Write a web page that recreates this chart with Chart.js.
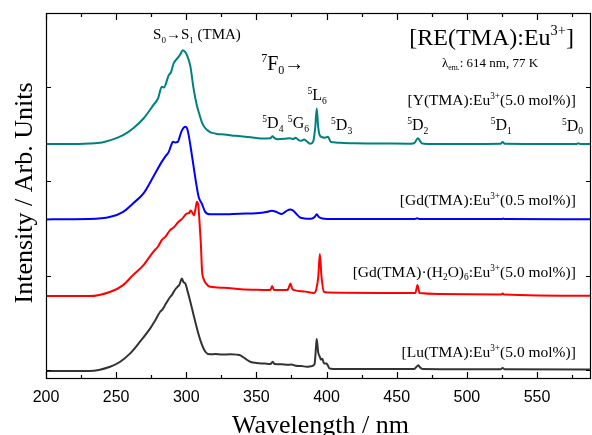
<!DOCTYPE html>
<html lang="en">
  <head>
    <meta charset="UTF-8" />
    <title>RE(TMA):Eu3+ excitation spectra</title>
    <script src="https://cdn.jsdelivr.net/npm/chart.js"></script>
    <style>
      html,
      body {
        margin: 0;
        padding: 0;
        background: #fff;
      }
    </style>
  </head>
  <body>
    <canvas id="spectra" width="592" height="435"></canvas>

    <script>
      // axis ticks
      const xTicks = [200, 250, 300, 350, 400, 450, 500, 550];
      const xMinorTicks = [225, 275, 325, 375, 425, 475, 525, 575];
      const yTicks = [0, 1, 2, 3];

      // Y(TMA):Eu3+ (5.0 mol%)
      const tealX = [200, 215, 231, 240, 246, 255, 262, 269.5, 276.5, 280, 282.5, 284, 287.5, 289, 291, 294.5, 296, 297.5, 299, 300.5, 303, 305, 307.5, 309.5, 311, 313, 315, 317, 318.5, 322, 327, 335, 346, 353, 360, 361.5, 363, 365, 370, 374, 376, 378, 380, 382, 384, 386, 388.5, 390.5, 392, 393, 394, 395, 397, 399, 401, 403, 406, 410, 420, 440, 460, 463, 465, 466.5, 468, 472, 500, 524, 525.5, 527, 560, 578, 579.5, 581, 590];
      const tealY = [2.392, 2.392, 2.398, 2.41, 2.434, 2.487, 2.558, 2.663, 2.804, 2.88, 2.998, 2.99, 3.122, 3.15, 3.246, 3.315, 3.35, 3.386, 3.37, 3.333, 3.21, 2.998, 2.804, 2.7, 2.628, 2.57, 2.54, 2.52, 2.511, 2.5, 2.494, 2.48, 2.465, 2.452, 2.455, 2.475, 2.455, 2.444, 2.448, 2.455, 2.445, 2.46, 2.435, 2.428, 2.44, 2.42, 2.395, 2.42, 2.58, 2.77, 2.58, 2.49, 2.465, 2.46, 2.47, 2.416, 2.41, 2.405, 2.4, 2.398, 2.396, 2.41, 2.455, 2.43, 2.4, 2.394, 2.392, 2.395, 2.415, 2.395, 2.392, 2.392, 2.4, 2.392, 2.392];

      // Gd(TMA):Eu3+ (0.5 mol%)
      const blueX = [200, 231, 246, 255, 262, 269.5, 276.5, 282.5, 285, 287.5, 289, 290.5, 292, 294, 295.5, 297, 299.3, 300.5, 301.7, 304, 306.5, 308.8, 311, 313.5, 317, 325, 338, 350, 357, 361, 364, 368, 371, 374, 376, 378, 381, 384, 389, 391.5, 393, 394.5, 397, 405, 463, 464.5, 466, 525, 526, 527, 590];
      const blueY = [1.595, 1.598, 1.622, 1.675, 1.764, 1.87, 2.046, 2.204, 2.26, 2.31, 2.37, 2.416, 2.41, 2.416, 2.48, 2.54, 2.575, 2.56, 2.487, 2.275, 2.028, 1.834, 1.764, 1.675, 1.648, 1.648, 1.655, 1.66, 1.672, 1.686, 1.675, 1.651, 1.68, 1.7, 1.69, 1.66, 1.616, 1.605, 1.602, 1.62, 1.648, 1.62, 1.604, 1.598, 1.598, 1.606, 1.598, 1.598, 1.603, 1.598, 1.597];

      // Gd(TMA)(H2O)6:Eu3+ (5.0 mol%)
      const redX = [200, 231, 246, 255, 262, 269.5, 276.5, 280, 282.5, 285, 288.5, 291, 294.5, 297, 300.5, 302, 303, 304, 305.5, 306.5, 307.6, 308.6, 309.5, 310.5, 311.2, 312.5, 314, 317, 327, 339, 355, 360, 361.2, 362.5, 372, 373, 374.3, 375.5, 377, 385, 391, 392.8, 394.1, 395.2, 396.4, 398, 401, 410, 440, 463.3, 464.8, 466.3, 480, 524.5, 525.5, 526.5, 590];
      const redY = [0.783, 0.783, 0.829, 0.899, 1.005, 1.111, 1.252, 1.31, 1.376, 1.41, 1.481, 1.51, 1.569, 1.6, 1.658, 1.66, 1.69, 1.675, 1.64, 1.7, 1.781, 1.74, 1.55, 1.3, 1.058, 0.96, 0.917, 0.881, 0.871, 0.854, 0.848, 0.847, 0.889, 0.847, 0.846, 0.87, 0.917, 0.86, 0.846, 0.83, 0.815, 0.864, 0.99, 1.228, 0.99, 0.83, 0.82, 0.818, 0.815, 0.815, 0.899, 0.815, 0.806, 0.8, 0.81, 0.8, 0.786];

      // Lu(TMA):Eu3+ (5.0 mol%)
      const grayX = [200, 231, 245.7, 252.9, 260, 267, 274.3, 278, 281.4, 283, 285, 288.6, 290, 291.5, 293.8, 295, 296.9, 298, 299.3, 301, 302.9, 306.4, 310, 313.6, 317, 321, 325, 331.4, 336, 338.6, 342, 346, 350, 356, 360, 361.6, 363, 368, 372, 375, 378, 382, 386, 389, 391.4, 392.5, 393, 394, 395.2, 396, 397, 398.1, 400, 401.2, 402, 405, 410, 462.5, 464.5, 465.5, 466.5, 468.5, 500, 524, 525.5, 527, 590];
      const grayY = [-0.01, -0.01, 0.035, 0.088, 0.176, 0.3, 0.441, 0.53, 0.617, 0.64, 0.69, 0.776, 0.8, 0.84, 0.882, 0.9, 0.97, 0.93, 0.917, 0.83, 0.723, 0.511, 0.317, 0.194, 0.166, 0.17, 0.165, 0.166, 0.163, 0.155, 0.12, 0.085, 0.075, 0.068, 0.063, 0.088, 0.063, 0.06, 0.055, 0.058, 0.045, 0.042, 0.035, 0.04, 0.06, 0.25, 0.328, 0.19, 0.14, 0.11, 0.12, 0.071, 0.068, 0.04, 0.018, 0.012, 0.011, 0.011, 0.04, 0.05, 0.03, 0.011, 0.008, 0.008, 0.022, 0.008, 0.005];

      const serif = '"Liberation Serif", "Times New Roman", serif';
      const sans = '"Liberation Sans", Arial, sans-serif';

      // text labels: [wavelength, intensity, align, size, parts]
      // parts: [text, "n" | "sup" | "sub"]
      const labels = [
        [276.3, 3.502, "left", 15, [["S", "n"], ["0", "sub"], ["\u2192S", "n"], ["1", "sub"], [" (TMA)", "n"]]],
        [353.4, 3.18, "left", 20, [["7", "sup"], ["F", "n"], ["0", "sub"], ["\u2192", "n"]]],
        [576.3, 3.441, "right", 24, [["[RE(TMA):Eu", "n"], ["3+", "sup"], ["]", "n"]]],
        [482.2, 3.211, "left", 13, [["\u03bb", "n"], ["em.", "sub"], [": 614 nm, 77 K", "n"]]],
        [577.7, 2.806, "right", 15.5, [["[Y(TMA):Eu", "n"], ["3+", "sup"], ["(5.0 mol%)]", "n"]]],
        [577.7, 1.747, "right", 15.5, [["[Gd(TMA):Eu", "n"], ["3+", "sup"], ["(0.5 mol%)]", "n"]]],
        [577.7, 0.988, "right", 15.5, [["[Gd(TMA)\u00b7(H", "n"], ["2", "sub"], ["O)", "n"], ["6", "sub"], [":Eu", "n"], ["3+", "sup"], ["(5.0 mol%)]", "n"]]],
        [577.7, 0.141, "right", 15.5, [["[Lu(TMA):Eu", "n"], ["3+", "sup"], ["(5.0 mol%)]", "n"]]],
        [354.2, 2.559, "left", 16, [["5", "sup"], ["D", "n"], ["4", "sub"]]],
        [372.4, 2.559, "left", 16, [["5", "sup"], ["G", "n"], ["6", "sub"]]],
        [386.4, 2.859, "left", 16, [["5", "sup"], ["L", "n"], ["6", "sub"]]],
        [403.2, 2.541, "left", 16, [["5", "sup"], ["D", "n"], ["3", "sub"]]],
        [457.5, 2.541, "left", 16, [["5", "sup"], ["D", "n"], ["2", "sub"]]],
        [517.0, 2.541, "left", 16, [["5", "sup"], ["D", "n"], ["1", "sub"]]],
        [567.8, 2.531, "left", 16, [["5", "sup"], ["D", "n"], ["0", "sub"]]],
      ];

      function toPoints(xs, ys) {
        return xs.map((x, i) => ({ x: x, y: ys[i] }));
      }

      function drawRich(ctx, parts, x, y, size, align) {
        const small = size * 0.6;
        let total = 0;
        parts.forEach(([t, mode]) => {
          ctx.font = (mode === "n" ? size : small) + "px " + serif;
          total += ctx.measureText(t).width;
        });
        let cx = align === "right" ? x - total : x;
        parts.forEach(([t, mode]) => {
          const fs = mode === "n" ? size : small;
          const dy = mode === "sup" ? -size * 0.4 : mode === "sub" ? size * 0.22 : 0;
          ctx.font = fs + "px " + serif;
          ctx.fillText(t, cx, y + dy);
          cx += ctx.measureText(t).width;
        });
      }

      const framePlugin = {
        id: "frame",
        afterDatasetsDraw(chart) {
          const ctx = chart.ctx;
          const a = chart.chartArea;
          const xs = chart.scales.x;
          const ys = chart.scales.y;
          ctx.save();
          ctx.strokeStyle = "#000";
          ctx.lineWidth = 1.2;
          ctx.strokeRect(a.left + 0.5, a.top + 0.5, a.right - a.left - 1, a.bottom - a.top - 1);

          ctx.beginPath();
          const xt = (v, len) => {
            const px = Math.round(xs.getPixelForValue(v)) + 0.5;
            ctx.moveTo(px, a.bottom);
            ctx.lineTo(px, a.bottom - len);
            ctx.moveTo(px, a.top);
            ctx.lineTo(px, a.top + len);
          };
          xTicks.forEach((v) => xt(v, 7));
          xMinorTicks.forEach((v) => xt(v, 4));
          yTicks.forEach((v) => {
            const py = Math.round(ys.getPixelForValue(v)) + 0.5;
            ctx.moveTo(a.left, py);
            ctx.lineTo(a.left + 5, py);
            ctx.moveTo(a.right, py);
            ctx.lineTo(a.right - 5, py);
          });
          ctx.stroke();

          // axis titles
          ctx.fillStyle = "#000";
          ctx.textBaseline = "alphabetic";
          ctx.textAlign = "center";
          ctx.font = "26px " + serif;
          ctx.fillText("Wavelength / nm", (a.left + a.right) / 2 + 2, 433);
          ctx.save();
          ctx.translate(32, (a.top + a.bottom) / 2 - 3);
          ctx.rotate(-Math.PI / 2);
          ctx.fillText("Intensity / Arb. Units", 0, 0);
          ctx.restore();

          // annotations
          ctx.textAlign = "left";
          labels.forEach(([wl, val, align, size, parts]) => {
            drawRich(ctx, parts, xs.getPixelForValue(wl), ys.getPixelForValue(val), size, align);
          });
          ctx.restore();
        },
      };

      const ds = (label, color, xs, ys) => ({
        label: label,
        data: toPoints(xs, ys),
        borderColor: color,
        borderWidth: 2,
        pointRadius: 0,
        fill: false,
        cubicInterpolationMode: "monotone",
      });

      new Chart(document.getElementById("spectra").getContext("2d"), {
        type: "line",
        data: {
          datasets: [
            ds("Y(TMA):Eu3+ (5.0 mol%)", "#008080", tealX, tealY),
            ds("Gd(TMA):Eu3+ (0.5 mol%)", "#0000ff", blueX, blueY),
            ds("Gd(TMA)(H2O)6:Eu3+ (5.0 mol%)", "#ff0000", redX, redY),
            ds("Lu(TMA):Eu3+ (5.0 mol%)", "#333333", grayX, grayY),
          ],
        },
        options: {
          responsive: false,
          animation: false,
          devicePixelRatio: 1,
          layout: { padding: { top: 13, right: 1, left: 0, bottom: 0 } },
          plugins: {
            legend: { display: false },
            tooltip: { enabled: false },
          },
          scales: {
            x: {
              type: "linear",
              min: 200,
              max: 588.5,
              afterBuildTicks: (s) => {
                s.ticks = xTicks.map((v) => ({ value: v }));
              },
              afterFit: (s) => {
                s.height = 56;
              },
              ticks: {
                color: "#000",
                font: { family: sans, size: 16 },
                padding: 9,
                maxRotation: 0,
                autoSkip: false,
              },
              grid: { display: false, drawTicks: false },
              border: { display: false },
            },
            y: {
              type: "linear",
              min: -0.095,
              max: 3.78,
              afterFit: (s) => {
                s.width = 46;
              },
              ticks: { display: false },
              grid: { display: false, drawTicks: false },
              border: { display: false },
            },
          },
        },
        plugins: [framePlugin],
      });
    </script>
  </body>
</html>
